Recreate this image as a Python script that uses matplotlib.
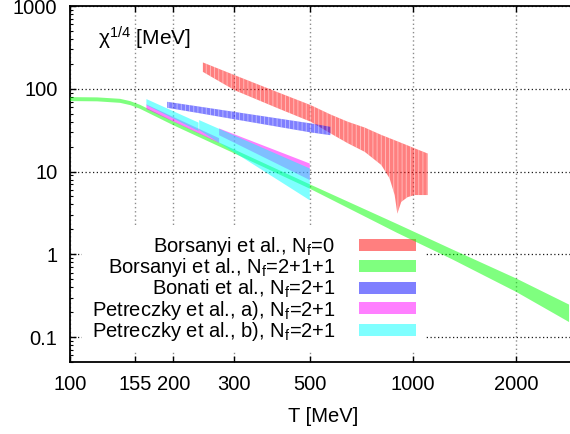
import numpy as np
import matplotlib
matplotlib.use('Agg')
import matplotlib.pyplot as plt
from matplotlib.patches import Patch
from matplotlib.ticker import FixedLocator, FixedFormatter, NullLocator, LogLocator

plt.rcParams['font.family'] = ['Liberation Sans', 'DejaVu Sans']
plt.rcParams['mathtext.fontset'] = 'custom'
plt.rcParams['mathtext.rm'] = 'Liberation Sans'
plt.rcParams['mathtext.it'] = 'Liberation Sans:italic'
plt.rcParams['hatch.linewidth'] = 0.6

# Borsanyi et al., Nf=0
T_bq = [244, 302, 400, 503, 574, 645, 723, 808, 854, 884, 900, 924, 964, 1010, 1104]
hi_bq = [208, 146, 92, 63.5, 49, 40, 34, 27.7, 25.3, 23.9, 23.2, 22.2, 20.7, 19.1, 16.5]
lo_bq = [160, 96, 59, 40, 29, 22, 17.3, 12, 8.3, 5.2, 3.1, 4.3, 4.9, 5.2, 5.2]

# Borsanyi et al., Nf=2+1+1
T_b4 = [100, 120, 140, 150, 160, 200, 300, 500, 900, 1300, 2000, 2850]
lo_b4 = [71.0, 70.5, 67.6, 63.4, 57.3, 36.3, 16.7, 6.21, 1.81, 0.871, 0.351, 0.152]
hi_b4 = [79.3, 78.7, 75.6, 70.8, 64.0, 40.6, 18.6, 7.01, 2.32, 1.148, 0.510, 0.247]

# Bonati et al., Nf=2+1
T_bo = [192, 231, 503, 574]
hi_bo = [69.6, 62.1, 38.2, 34.7]
lo_bo = [58.9, 51.8, 29.7, 27.5]

# Petreczky et al. a) -- two pieces
T_pa1 = [167, 272]
hi_pa1 = [64.7, 25.3]
lo_pa1 = [56.9, 22.2]
T_pa2 = [272, 500]
hi_pa2 = [33.2, 12.5]
lo_pa2 = [27.5, 7.9]

# Petreczky et al. b) -- two pieces
T_pb1 = [167, 237]
hi_pb1 = [75.1, 39.0]
lo_pb1 = [63.5, 30.8]
T_pb2 = [238, 500]
hi_pb2 = [41.8, 10.9]
lo_pb2 = [31.7, 4.5]

labels = ['Borsanyi et al., N$_\\mathrm{f}$=0',
          'Borsanyi et al., N$_\\mathrm{f}$=2+1+1',
          'Bonati et al., N$_\\mathrm{f}$=2+1',
          'Petreczky et al., a), N$_\\mathrm{f}$=2+1',
          'Petreczky et al., b), N$_\\mathrm{f}$=2+1']
colors = ['#ff0000', '#00ff00', '#0000ff', '#ff00ff', '#00ffff']

xticks = [100, 155, 200, 300, 500, 1000, 2000]
yticks = [0.1, 1, 10, 100, 1000]

fs = 14.5

fig = plt.figure(figsize=(5.7, 4.34), dpi=100)
ax = fig.add_axes([70/570, 72/434, 506.7/570, 356/434])
ax.set_xscale('log')
ax.set_yscale('log')
ax.set_xlim(100, 3000)
ax.set_ylim(0.05, 1000)

ax.fill_between(T_bq, lo_bq, hi_bq, facecolor=colors[0], alpha=0.5, lw=0,
                hatch='||||', edgecolor='white', zorder=3)
ax.fill_between(T_b4, lo_b4, hi_b4, facecolor=colors[1], alpha=0.5, lw=0, zorder=3)
ax.fill_between(T_bo, lo_bo, hi_bo, facecolor=colors[2], alpha=0.5, lw=0,
                hatch='||||', edgecolor='white', zorder=3)
ax.fill_between(T_pa1, lo_pa1, hi_pa1, facecolor=colors[3], alpha=0.5, lw=0, zorder=3)
ax.fill_between(T_pa2, lo_pa2, hi_pa2, facecolor=colors[3], alpha=0.5, lw=0, zorder=3)
ax.fill_between(T_pb1, lo_pb1, hi_pb1, facecolor=colors[4], alpha=0.5, lw=0, zorder=3)
ax.fill_between(T_pb2, lo_pb2, hi_pb2, facecolor=colors[4], alpha=0.5, lw=0, zorder=3)

ax.xaxis.set_major_locator(FixedLocator(xticks))
ax.xaxis.set_major_formatter(FixedFormatter([str(t) for t in xticks]))
ax.xaxis.set_minor_locator(NullLocator())
ax.yaxis.set_major_locator(FixedLocator(yticks))
ax.yaxis.set_major_formatter(FixedFormatter(['0.1', '1', '10', '100', '1000']))
ax.yaxis.set_minor_locator(LogLocator(base=10, subs=np.arange(2, 10)))

ax.tick_params(which='both', direction='in', top=True, right=True, labelsize=fs)
ax.tick_params(which='major', length=4.5, width=1, pad=9)
ax.tick_params(which='minor', length=2.5, width=0.8)
for s in ax.spines.values():
    s.set_linewidth(1.3)

ax.xaxis.grid(True, color='0.55', ls=(0, (1, 2)), lw=1)
ax.yaxis.grid(True, color='0.1', ls=(0, (1, 2)), lw=0.9)
ax.set_axisbelow(True)

ax.set_xlabel('T [MeV]', fontsize=fs, labelpad=10)
ax.text(0.055, 0.89, 'χ$^{1/4}$ [MeV]', transform=ax.transAxes, fontsize=15,
        va='baseline', ha='left')

handles = [Patch(facecolor=c, alpha=0.5, edgecolor='none') for c in colors]
leg = ax.legend(handles, labels, loc='upper right', bbox_to_anchor=(425/570, 1 - 226/434),
                bbox_transform=fig.transFigure, markerfirst=False, frameon=True,
                fancybox=False, edgecolor='none', facecolor='white', framealpha=1,
                fontsize=fs, handlelength=2.85, handleheight=0.55, handletextpad=1.15,
                labelspacing=-0.08, borderpad=0.45, borderaxespad=0)
leg.set_zorder(2.5)

fig.savefig('out.png', dpi=100)
